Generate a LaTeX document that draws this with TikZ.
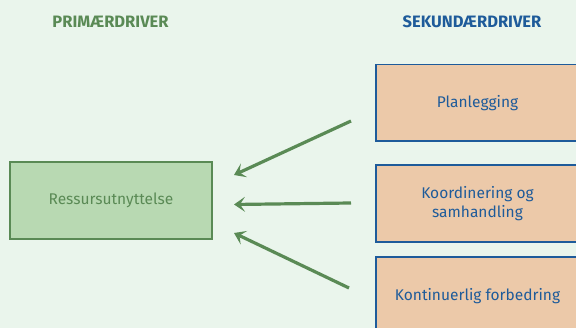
\documentclass[tikz,border=0pt]{standalone}
\usepackage{fontspec}
\setmainfont{Fira Sans}
\usetikzlibrary{arrows.meta}
\definecolor{bgc}{HTML}{EAF5EC}
\definecolor{gfill}{HTML}{B8D9B2}
\definecolor{gline}{HTML}{5A8A55}
\definecolor{ofill}{HTML}{ECC9A9}
\definecolor{bline}{HTML}{1E5B9A}
\tikzset{
  primbox/.style={draw=gline, line width=1.5pt, fill=gfill},
  secbox/.style={draw=bline, line width=1.5pt, fill=ofill},
  lbl/.style={font=\fontsize{15.5}{19}\selectfont, align=center},
  hdr/.style={font=\bfseries\fontsize{16.5}{20}\selectfont},
  conn/.style={draw=gline, line width=3.2pt, -{Stealth[length=11pt,width=15pt,inset=5pt]}}
}
\begin{document}
\begin{tikzpicture}[x=1pt,y=-1pt]
\useasboundingbox (0,0) rectangle (576,328);
\fill[bgc] (0,0) rectangle (576,328);
\node[hdr, text=gline] (h1) at (110.5,22) {PRIMÆRDRIVER};
\node[hdr, text=bline] (h2) at (472,22) {SEKUNDÆRDRIVER};
\path[primbox] (10,162) rectangle (212,239);
\node[lbl, text=gline] (p) at (111,200) {Ressursutnyttelse};
\path[secbox] (376,64.5) rectangle (580,141);
\node[lbl, text=bline] (s1) at (477.5,103) {Planlegging};
\path[secbox] (376,165) rectangle (580,242);
\node[lbl, text=bline] (s2) at (477.5,203.5) {Koordinering og\\samhandling};
\path[secbox] (376,257) rectangle (580,340);
\node[lbl, text=bline] (s3) at (477.5,296) {Kontinuerlig forbedring};
\coordinate (a1s) at (351,121);
\coordinate (a1e) at (234,175);
\coordinate (a2s) at (351,203);
\coordinate (a2e) at (234,204.5);
\coordinate (a3s) at (349,288);
\coordinate (a3e) at (234,233);
\draw[conn] (a1s) -- (a1e);
\draw[conn] (a2s) -- (a2e);
\draw[conn] (a3s) -- (a3e);
\end{tikzpicture}
\end{document}
